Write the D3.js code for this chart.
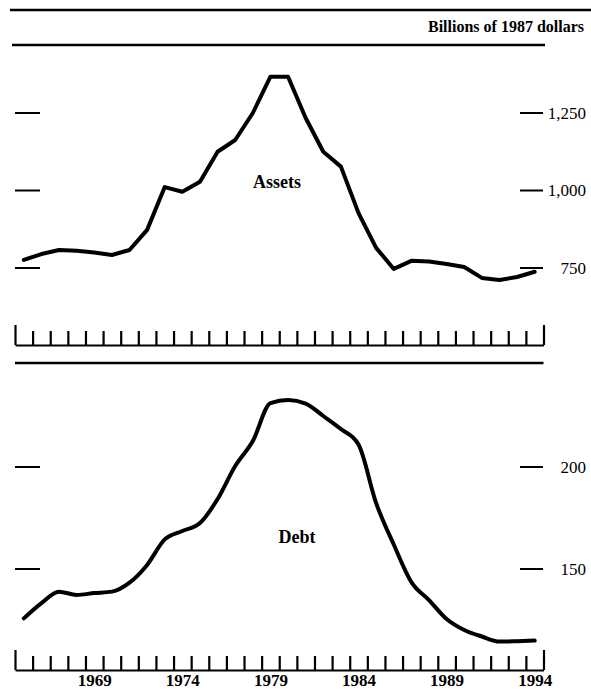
<!DOCTYPE html>
<html>
<head>
<meta charset="utf-8">
<script src="https://cdn.jsdelivr.net/npm/d3@7"></script>
<style>
  html, body { margin: 0; padding: 0; background: #fff; }
  svg { display: block; }
  text { font-family: "Liberation Serif", "Times New Roman", serif; fill: #000; }
</style>
</head>
<body>
<svg id="chart" width="591" height="695"></svg>
<script>
// ---- data ----
const years = [1965,1966,1967,1968,1969,1970,1971,1972,1973,1974,1975,1976,1977,1978,1979,
               1980,1981,1982,1983,1984,1985,1986,1987,1988,1989,1990,1991,1992,1993,1994];
const assets = [776,795,808,806,800,792,808,873,1011,996,1028,1125,1163,1250,1367,
                1367,1234,1125,1077,927,815,747,773,771,763,753,718,711,721,738];
const debt = [125.8,133.3,138.9,137.3,138.2,138.9,143.3,152,164.5,168.6,172.5,184.3,200.5,212.7,231.3,
              232.8,231.1,225,218.6,211,182.3,162,143.6,134.8,125.5,120.1,116.9,114.4,114.6,114.9];
const assetTicks = [750, 1000, 1250];
const debtTicks = [150, 200];
const yearLabels = [1969, 1974, 1979, 1984, 1989, 1994];
const unitLabel = "Billions of 1987 dollars";

// ---- layout ----
const svg = d3.select("#chart");
const x = d3.scaleLinear().domain([years[0] - 0.5, years[years.length - 1] + 0.5]).range([15, 543.5]);
const yA = d3.scaleLinear().domain([750, 1250]).range([268, 113]);
const yD = d3.scaleLinear().domain([150, 200]).range([569, 467]);
const boundaries = d3.range(years[0] - 0.5, years[years.length - 1] + 1, 1);

// top rules and unit label
svg.append("line").attr("x1", 10).attr("x2", 591).attr("y1", 10).attr("y2", 10)
  .attr("stroke", "#000").attr("stroke-width", 2.5);
svg.append("text").attr("x", 584).attr("y", 32).attr("text-anchor", "end")
  .attr("font-size", 16).attr("font-weight", "bold").text(unitLabel);
svg.append("line").attr("x1", 12).attr("x2", 545).attr("y1", 45).attr("y2", 45)
  .attr("stroke", "#000").attr("stroke-width", 2.5);

function tickAxis(baseY) {
  const g = svg.append("g").attr("transform", `translate(0,${baseY})`)
    .call(d3.axisTop(x).tickValues(boundaries).tickSize(14).tickSizeOuter(0).tickFormat(""));
  g.select(".domain").attr("stroke-width", 2.2);
  g.selectAll(".tick line").attr("stroke-width", 2.2)
    .attr("y2", (d, i) => (i === 0 || i === boundaries.length - 1) ? -20 : -14);
  return g;
}

function yTicks(scale, ticks, fmt) {
  const g = svg.append("g");
  ticks.forEach(t => {
    g.append("line").attr("x1", 15).attr("x2", 40).attr("y1", scale(t)).attr("y2", scale(t))
      .attr("stroke", "#000").attr("stroke-width", 2);
    g.append("line").attr("x1", 520).attr("x2", 543).attr("y1", scale(t)).attr("y2", scale(t))
      .attr("stroke", "#000").attr("stroke-width", 2);
    g.append("text").attr("x", 586).attr("y", scale(t)).attr("dy", "0.35em")
      .attr("text-anchor", "end").attr("font-size", 17).text(fmt(t));
  });
}

// ---- Assets panel ----
yTicks(yA, assetTicks, d3.format(","));
svg.append("path")
  .datum(years.map((yr, i) => [yr, assets[i]]))
  .attr("fill", "none").attr("stroke", "#000").attr("stroke-width", 4)
  .attr("stroke-linejoin", "round").attr("stroke-linecap", "round")
  .attr("d", d3.line().x(d => x(d[0])).y(d => yA(d[1])));
svg.append("text").attr("x", 277).attr("y", 188).attr("text-anchor", "middle")
  .attr("font-size", 18).attr("font-weight", "bold").text("Assets");
tickAxis(345);

// separator
svg.append("line").attr("x1", x.range()[0]).attr("x2", x.range()[1]).attr("y1", 363).attr("y2", 363)
  .attr("stroke", "#000").attr("stroke-width", 2.5);

// ---- Debt panel ----
yTicks(yD, debtTicks, d3.format(","));
svg.append("path")
  .datum(years.map((yr, i) => [yr, debt[i]]))
  .attr("fill", "none").attr("stroke", "#000").attr("stroke-width", 4)
  .attr("stroke-linejoin", "round").attr("stroke-linecap", "round")
  .attr("d", d3.line().curve(d3.curveMonotoneX).x(d => x(d[0])).y(d => yD(d[1])));
svg.append("text").attr("x", 297).attr("y", 543).attr("text-anchor", "middle")
  .attr("font-size", 18).attr("font-weight", "bold").text("Debt");
tickAxis(670);

// year labels
const yl = svg.append("g").attr("transform", "translate(0,670)")
  .call(d3.axisBottom(x).tickValues(yearLabels).tickSize(0).tickPadding(4).tickFormat(d3.format("d")));
yl.select(".domain").remove();
yl.selectAll("text").attr("font-size", 17).attr("font-weight", "bold")
  .style("font-family", "'Liberation Serif', serif").attr("fill", "#000");
</script>
</body>
</html>
